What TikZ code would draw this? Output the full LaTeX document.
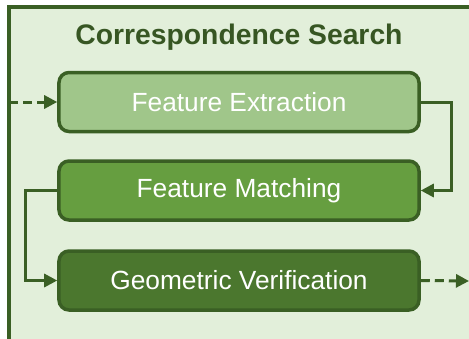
\documentclass[tikz,border=0pt]{standalone}
\usepackage{fontspec}
\setmainfont{Liberation Sans}
\usetikzlibrary{arrows.meta}
\definecolor{framebg}{HTML}{E2EFDA}
\definecolor{darkgr}{HTML}{3A5F24}
\definecolor{titlegr}{HTML}{375623}
\definecolor{stepa}{HTML}{A0C68A}
\definecolor{stepb}{HTML}{669E40}
\definecolor{stepc}{HTML}{4B772E}
\tikzset{
    frame/.style = {draw=darkgr, line width=4bp, fill=framebg},
    stage/.style = {rectangle, rounded corners=10bp, draw=darkgr, line width=3.5bp,
                    minimum width=360bp, minimum height=59bp, text=white,
                    font=\fontsize{26.3bp}{31bp}\selectfont},
    title/.style = {text=titlegr, anchor=base, font=\fontsize{28.3bp}{33bp}\selectfont\bfseries},
    flow/.style = {-{Triangle[length=13bp,width=13bp]}, line width=3bp, draw=darkgr},
    flowd/.style = {flow, dash pattern=on 9bp off 5bp}, % in / out
}
\begin{document}
\begin{tikzpicture}[x=1bp,y=-1bp]
\useasboundingbox (0,0) rectangle (469,338);
\clip (0,0) rectangle (469,338);
%
\fill[white] (0,0) rectangle (469,338);
\draw[frame] (9,7) rectangle (490,360);
\node[title] at (239,44) (head) {Correspondence Search};
%
\node[stage, fill=stepa] at (239,102) (extract) {Feature Extraction};
\node[stage, fill=stepb] at (239,190.5) (match) {Feature Matching};
\node[stage, fill=stepc] at (239,280.5) (verify) {Geometric Verification};
\coordinate (in) at (9,102);
\coordinate (out) at (469,281);
%
\draw[flowd] (in) -- (extract.west);
\draw[flow] (extract.east) -- ++(31,0) |- (match.east);
\draw[flow] (match.west) -- ++(-32,0) |- (verify.west);
\draw[flowd] (verify.east) -- (out);
\end{tikzpicture}
\end{document}
